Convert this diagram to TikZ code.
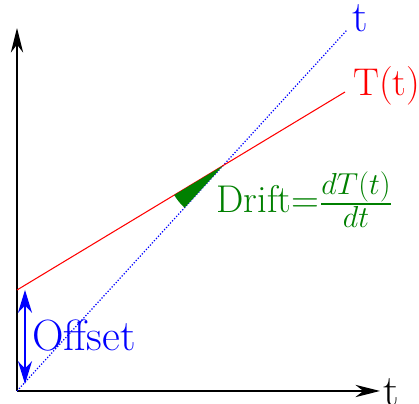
\documentclass[tikz,border=0pt]{standalone}
\usepackage{amsmath}
\usepackage{xcolor}
\usepackage{tikz}
\usetikzlibrary{arrows.meta}

\definecolor{driftgreen}{rgb}{0,0.5,0}
\DeclareMathSizes{22}{22}{16.5}{12}

\begin{document}
\begin{tikzpicture}[
        x=0.02cm, y=0.02cm,
        axis/.style={very thick, -{Stealth[length=14pt, width=7pt]}},
        clock/.style={red, semithick},
        ideal/.style={blue, line width=0.7pt, densely dotted},
        offsetarrow/.style={blue, thick, {Stealth[length=13pt, width=8pt]}-{Stealth[length=13pt, width=8pt]}},
        lbl/.style={inner sep=0pt, anchor=base west}
    ]
    \useasboundingbox (0,0) rectangle (419,404);

    % Axes
    \coordinate (o) at (17,13);
    \coordinate (ytip) at (17,376);
    \coordinate (xtip) at (380,13);
    \draw[axis] (o) -- (ytip);
    \draw[axis] (o) -- (xtip);
    \node[lbl, font=\Huge] (tx) at (383,-2) {t};

    % Ideal clock t and real clock T(t)
    \coordinate (tend) at (347,374);
    \coordinate (Tstart) at (17,114);
    \coordinate (Tend) at (345,312);
    \draw[ideal] (o) -- (tend);
    \draw[clock] (Tstart) -- (Tend);
    \node[lbl, blue, font=\Huge] (tlab) at (352,372) {t};
    \node[lbl, red, font=\fontsize{22}{26}\selectfont] (Tlab) at (353,308) {T(t)};

    % Drift angle
    \coordinate (cross) at (intersection of o--tend and Tstart--Tend);
    \fill[driftgreen] (cross) -- ++(211.1:1.14cm) arc[start angle=211.1, end angle=227.6, radius=1.14cm] -- cycle;
    \node[lbl, driftgreen, font=\fontsize{22}{26}\selectfont] (drift) at (216,191) {Drift=$\frac{dT(t)}{dt}$};

    % Offset
    \coordinate (offtop) at (25,114);
    \coordinate (offbot) at (25,20);
    \draw[offsetarrow] (offtop) -- (offbot);
    \node[lbl, blue, font=\Huge] (offset) at (32,53) {Offset};

\end{tikzpicture}
\end{document}
